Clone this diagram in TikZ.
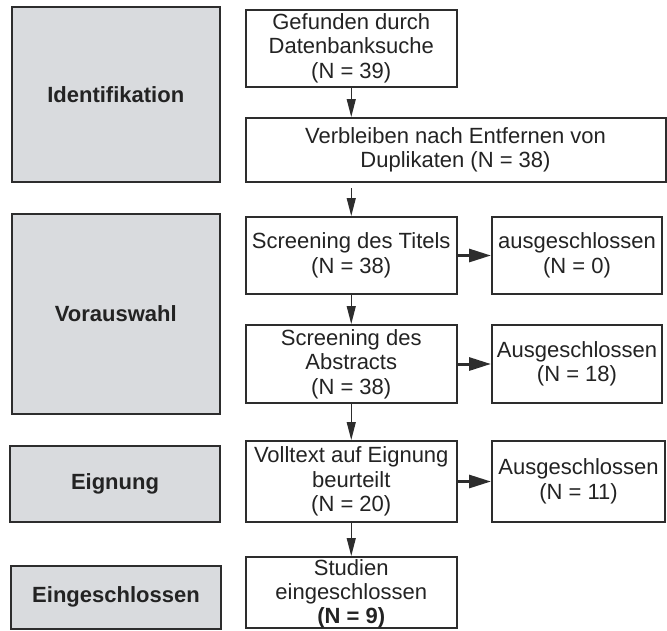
\documentclass[tikz,border=0pt]{standalone}
\usepackage{fontspec}
\setmainfont{Liberation Sans}
\usetikzlibrary{arrows.meta}
\definecolor{linecol}{RGB}{45,45,45}
\definecolor{textcol}{RGB}{35,35,35}
\definecolor{phasefill}{RGB}{217,219,222}
\begin{document}
\begin{tikzpicture}[x=1pt,y=-1pt,
  box/.style={draw=linecol, line width=2pt, fill=white, align=center,
    font=\fontsize{22}{24.5}\selectfont, text=textcol, inner sep=0pt},
  phase/.style={box, fill=phasefill, font=\fontsize{22}{24.5}\selectfont\bfseries},
  vline/.style={draw=linecol, line width=1.2pt, -{Triangle[length=18pt,width=9pt]}},
  hline/.style={draw=linecol, line width=3pt, -{Triangle[length=22pt,width=13pt]}}]
\useasboundingbox (0,0) rectangle (667,630);
% phase boxes
\node[phase, minimum width=208.5pt, minimum height=175pt] (ident) at (115.75,94.8) {Identifikation};
\node[phase, minimum width=208.5pt, minimum height=200pt] (vor) at (115.75,314) {Vorauswahl};
\node[phase, minimum width=210pt, minimum height=76pt] (eig) at (115,484) {Eignung};
\node[phase, minimum width=209.5pt, minimum height=63pt] (ein) at (116,597) {Eingeschlossen};
% flow boxes
\node[box, minimum width=211.5pt, minimum height=76.7pt] (gef) at (351.25,48.3) {Gefunden durch\\Datenbanksuche\\(N = 39)};
\node[box, minimum width=420pt, minimum height=64pt] (verb) at (455.5,150) {Verbleiben nach Entfernen von\\Duplikaten (N = 38)};
\node[box, minimum width=211.5pt, minimum height=77pt] (titel) at (351.25,255.5) {Screening des Titels\\(N = 38)};
\node[box, minimum width=170pt, minimum height=77pt] (aus0) at (577,255.5) {ausgeschlossen\\(N = 0)};
\node[box, minimum width=211.5pt, minimum height=78pt] (abs) at (351.25,364) {Screening des\\Abstracts\\(N = 38)};
\node[box, minimum width=170pt, minimum height=78pt] (aus18) at (577,364) {Ausgeschlossen\\(N = 18)};
\node[box, minimum width=211.5pt, minimum height=81pt] (volt) at (351.25,481.5) {Volltext auf Eignung\\beurteilt\\(N = 20)};
\node[box, minimum width=173pt, minimum height=81pt] (aus11) at (578.5,481.5) {Ausgeschlossen\\(N = 11)};
\node[box, minimum width=211.5pt, minimum height=71pt,
  label={[font=\fontsize{22}{24}\selectfont, text=textcol, align=center, inner sep=0pt, yshift=-1.5pt]center:Studien\\eingeschlossen\\\textbf{(N = 9)}}] (stud) at (351.25,592.5) {};
% connectors
\draw[vline] (gef.south) -- (gef.south |- verb.north);
\draw[vline, shorten <=5pt] (verb.south -| titel.south) -- (titel.north);
\draw[vline] (titel.south) -- (abs.north);
\draw[vline] (abs.south) -- (volt.north);
\draw[vline] (volt.south) -- (stud.north);
\draw[hline] (titel.east) -- (aus0.west);
\draw[hline] (abs.east) -- (aus18.west);
\draw[hline] (volt.east) -- (aus11.west);
\end{tikzpicture}
\end{document}
